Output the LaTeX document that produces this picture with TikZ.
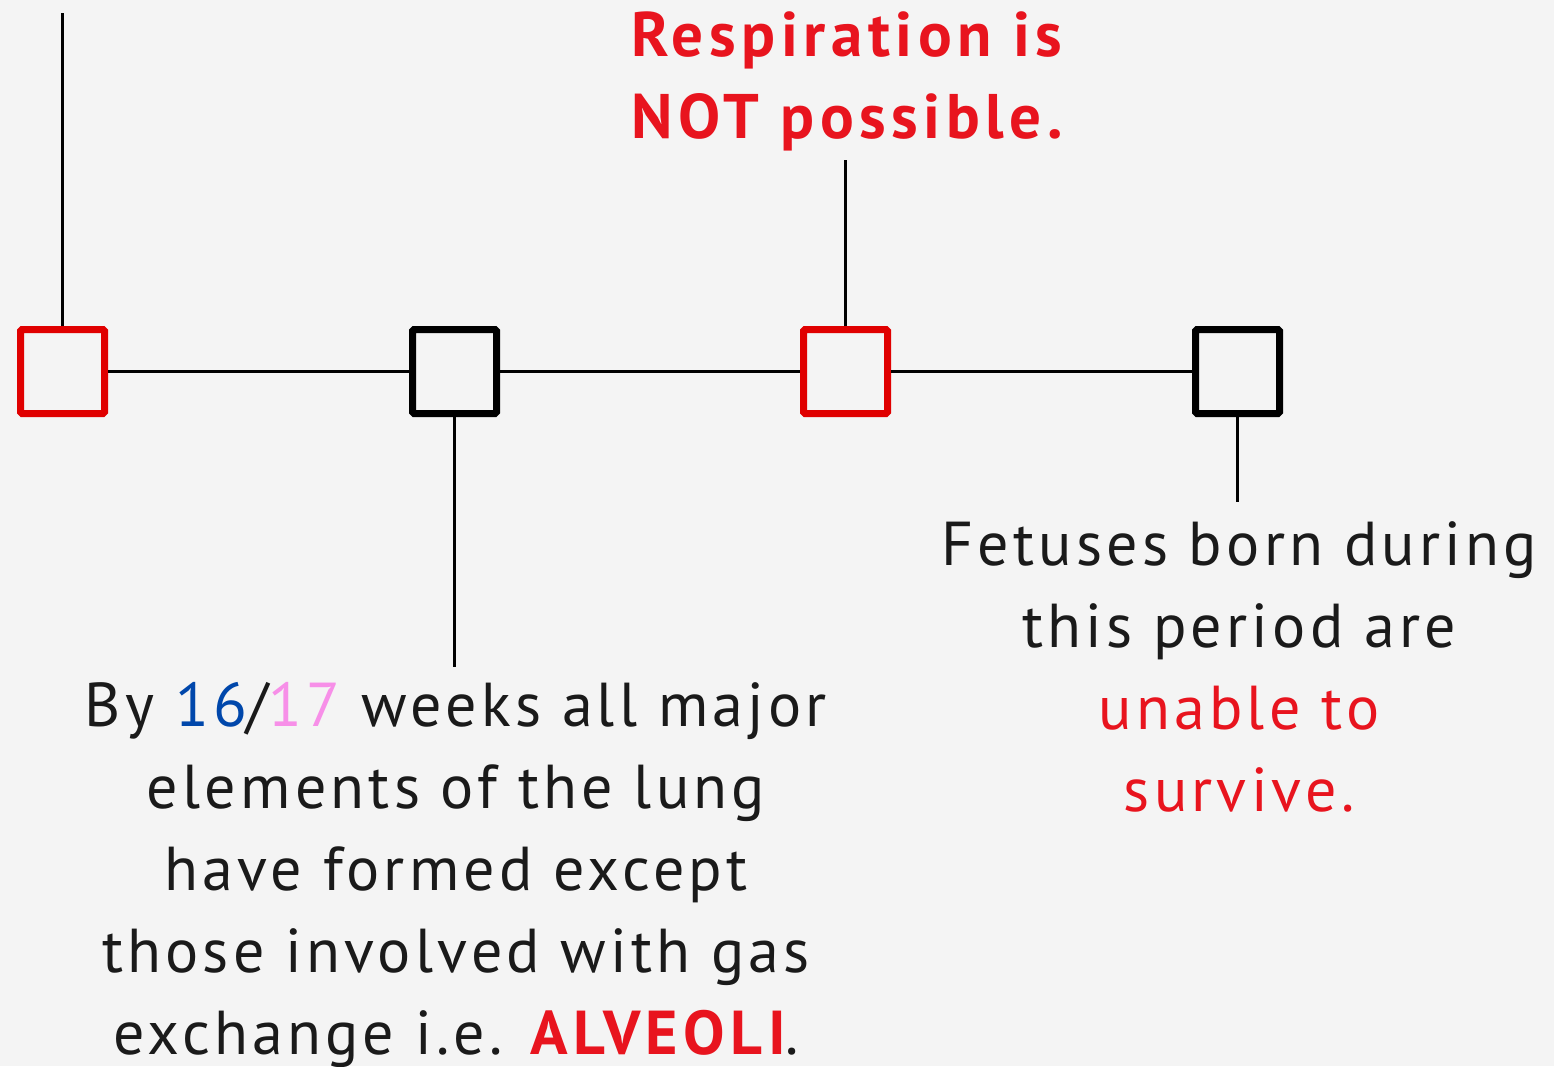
\documentclass[tikz,border=0pt]{standalone}
\usepackage{fontspec}
\setmainfont{PT Sans}[LetterSpace=6.8]
\newfontfamily\boldtitle{PT Sans Bold}[LetterSpace=8.8]
\definecolor{bg}{HTML}{F4F4F4}
\definecolor{boxred}{HTML}{E00000}
\definecolor{txtred}{HTML}{E8141E}
\definecolor{ink}{HTML}{1A1A1A}
\definecolor{numblue}{HTML}{0047AB}
\definecolor{numpink}{HTML}{F78FE8}
\tikzset{
  stage/.style={draw, line width=7pt, minimum size=84pt, inner sep=0pt, rounded corners=1.5pt},
  redstage/.style={stage, draw=boxred},
  blackstage/.style={stage, draw=black},
  link/.style={line width=3pt, draw=black},
  label/.style={align=center, inner sep=0pt, text=ink, font=\fontsize{62}{82}\selectfont},
}
\begin{document}
\begin{tikzpicture}[x=1pt,y=-1pt]
\useasboundingbox (0,0) rectangle (1554,1066);
\fill[bg] (0,0) rectangle (1554,1066);
\node[redstage] (s1) at (62.5,371.5) {};
\node[blackstage] (s2) at (454.5,371.5) {};
\node[redstage] (s3) at (845.5,371.5) {};
\node[blackstage] (s4) at (1237.5,371.5) {};
\coordinate (top1) at (62.5,13);
\coordinate (top3) at (845.5,160);
\coordinate (bot2) at (454.5,667);
\coordinate (bot4) at (1237.5,502);
\draw[link] (s1) -- (s2);
\draw[link] (s2) -- (s3);
\draw[link] (s3) -- (s4);
\draw[link] (s1.north) -- (top1);
\draw[link] (s3.north) -- (top3);
\draw[link] (s2.south) -- (bot2);
\draw[link] (s4.south) -- (bot4);
\node[label, anchor=north, text=txtred, font=\boldtitle\fontsize{63}{82}\selectfont] (resp) at (847,12) {Respiration is\\NOT possible.};
\node[label, anchor=north] (lung) at (456,682) {By \textcolor{numblue}{16}/\textcolor{numpink}{17} weeks all major\\elements of the lung\\have formed except\\those involved with gas\\exchange i.e. \textcolor{txtred}{\boldtitle ALVEOLI}.};
\node[label, anchor=north] (fetus) at (1239,521) {Fetuses born during\\this period are\\\textcolor{txtred}{unable to}\\\textcolor{txtred}{survive.}};
\end{tikzpicture}
\end{document}
